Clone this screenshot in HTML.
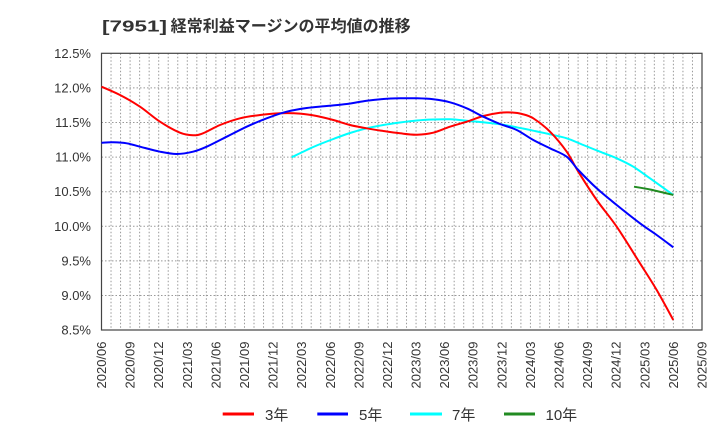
<!DOCTYPE html>
<html>
<head>
<meta charset="utf-8">
<style>
html,body{margin:0;padding:0;background:#fff;}
svg{display:block;}
text{font-family:"Liberation Sans","Noto Sans CJK JP",sans-serif;fill:#333;}
</style>
</head>
<body>
<svg width="720" height="440" viewBox="0 0 720 440" xmlns="http://www.w3.org/2000/svg">
<rect x="0" y="0" width="720" height="440" fill="#fff"/>
<!-- Title -->
<text x="102" y="31.5" font-size="16" font-weight="bold" textLength="65" lengthAdjust="spacingAndGlyphs">[7951]</text>
<text x="170.7" y="31.5" font-size="16" font-weight="bold" textLength="240" lengthAdjust="spacingAndGlyphs">経常利益マージンの平均値の推移</text>

<!-- grid -->
<g stroke="#999" stroke-width="1" stroke-dasharray="1.5,2" fill="none">
<path d="M101.5,87.9H702 M101.5,122.5H702 M101.5,157.1H702 M101.5,191.7H702 M101.5,226.3H702 M101.5,260.9H702 M101.5,295.5H702"/>
</g>
<g id="vg" stroke="#999" stroke-width="1" stroke-dasharray="1.5,2" fill="none"></g>

<!-- axis box -->
<rect x="101.5" y="53.3" width="600.5" height="276.7" fill="none" stroke="#444" stroke-width="1.2"/>

<!-- y labels -->
<g font-size="13" text-anchor="end">
<text x="91" y="57.8">12.5%</text>
<text x="91" y="92.4">12.0%</text>
<text x="91" y="127">11.5%</text>
<text x="91" y="161.6">11.0%</text>
<text x="91" y="196.2">10.5%</text>
<text x="91" y="230.8">10.0%</text>
<text x="91" y="265.4">9.5%</text>
<text x="91" y="300">9.0%</text>
<text x="91" y="334.6">8.5%</text>
</g>

<!-- x labels -->
<g id="xl" font-size="13" text-anchor="end"></g>

<!-- series -->
<g id="series" fill="none" stroke-width="2" stroke-linejoin="round" stroke-linecap="butt">
<polyline stroke="#00ffff" points="291.7,157.3 306.7,150 316.7,145.5 333.3,139 350,133 366.7,128.3 383.3,125 400,122.5 416.7,120.5 433.3,119.5 450,119.3 466.7,120.7 483.3,122.3 500,124.3 516.7,127.3 533.3,130.7 550,134.3 566.7,138.3 583.3,145 600,151.7 616.7,158.3 633.3,166.7 650,178.3 673.3,195"/>
<polyline stroke="#228b22" points="634,186.7 650,189.5 673.3,195"/>
<polyline stroke="#ff0000" points="101.5,86.7 120,95 140,106.7 160,121.7 180,132.7 193,135.3 203,133.3 220,125 240,118.3 260,115 280,113.3 300,113.6 316.7,116 333.3,120 350,125 366.7,128.3 383.3,131 400,133.3 416.7,134.7 433.3,132.7 450,126.7 466.7,121.7 483.3,116 500,112.7 512,112.5 522,114 533.3,118.3 550,131.7 566.7,151.7 578.3,171.7 596.7,200 616.7,226.7 640,263.3 656.7,290 673.3,320"/>
<polyline stroke="#0000ff" points="101.5,142.7 113,142.3 126.7,143.3 140,146.7 160,151.7 176.7,154 193,151.7 206.7,146.7 226.7,136.7 246.7,126.7 266.7,118.3 286.7,111.7 306.7,108 326.7,106 346.7,104 366.7,100.7 383.3,99 400,98.3 416.7,98.3 433.3,99.3 450,102.3 466.7,108.3 483.3,116.7 500,124 516.7,130 533.3,140 550,148.3 566.7,156.7 578.3,170 596.7,188.3 616.7,205 640,223.3 656.7,235 673.3,247.3"/>
</g>

<!-- legend -->
<g stroke-width="3">
<line x1="222.7" y1="414" x2="254" y2="414" stroke="#ff0000"/>
<line x1="317.3" y1="414" x2="348" y2="414" stroke="#0000ff"/>
<line x1="410" y1="414" x2="442" y2="414" stroke="#00ffff"/>
<line x1="504" y1="414" x2="535" y2="414" stroke="#228b22"/>
</g>
<g font-size="15">
<text x="265" y="420">3年</text>
<text x="359" y="420">5年</text>
<text x="452" y="420">7年</text>
<text x="545.5" y="420">10年</text>
</g>
</svg>
<script>
(function(){
  var ns="http://www.w3.org/2000/svg";
  var vg=document.getElementById("vg");
  var d="";
  for(var m=1;m<63;m++){var x=101.5+m*600.5/63;d+="M"+x.toFixed(2)+",53.3V330 ";}
  var p=document.createElementNS(ns,"path");p.setAttribute("d",d);vg.appendChild(p);
  var xl=document.getElementById("xl");
  var labels=[];
  for(var i=0;i<22;i++){
    var mm=6+i*3;var y=2020+Math.floor((mm-1)/12);var mo=((mm-1)%12)+1;
    labels.push(y+"/"+(mo<10?"0"+mo:mo));
  }
  for(var i=0;i<22;i++){
    var x=101.5+i*3*600.5/63+4.5;var yy=341.5;
    var t=document.createElementNS(ns,"text");
    t.setAttribute("x",x);t.setAttribute("y",yy);
    t.setAttribute("transform","rotate(-90 "+x+" "+yy+")");
    t.textContent=labels[i];xl.appendChild(t);
  }
  // smooth polylines via Catmull-Rom
  var polys=document.querySelectorAll("#series polyline");
  for(var k=0;k<polys.length;k++){
    var pl=polys[k];
    var pts=pl.getAttribute("points").trim().split(/\s+/).map(function(s){var a=s.split(",");return [parseFloat(a[0]),parseFloat(a[1])];});
    var dd="M"+pts[0][0]+","+pts[0][1];
    for(var j=0;j<pts.length-1;j++){
      var p0=pts[j>0?j-1:j],p1=pts[j],p2=pts[j+1],p3=pts[j+2<pts.length?j+2:j+1];
      var c1x=p1[0]+(p2[0]-p0[0])/6,c1y=p1[1]+(p2[1]-p0[1])/6;
      var c2x=p2[0]-(p3[0]-p1[0])/6,c2y=p2[1]-(p3[1]-p1[1])/6;
      dd+=" C"+c1x.toFixed(2)+","+c1y.toFixed(2)+" "+c2x.toFixed(2)+","+c2y.toFixed(2)+" "+p2[0]+","+p2[1];
    }
    var path=document.createElementNS(ns,"path");
    path.setAttribute("d",dd);
    path.setAttribute("stroke",pl.getAttribute("stroke"));
    pl.parentNode.replaceChild(path,pl);
  }
})();
</script>
</body>
</html>
